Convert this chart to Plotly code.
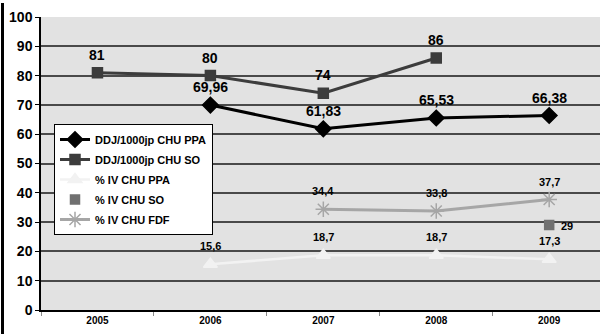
import plotly.graph_objects as go

years = ["2005", "2006", "2007", "2008", "2009"]

ddj_ppa = [None, 69.96, 61.83, 65.53, 66.38]
ddj_so = [81, 80, 74, 86, None]
iv_ppa = [None, 15.6, 18.7, 18.7, 17.3]
iv_so = [None, None, None, None, 29]
iv_fdf = [None, None, 34.4, 33.8, 37.7]

y_ticks = [0, 10, 20, 30, 40, 50, 60, 70, 80, 90, 100]

FONT = "Liberation Sans, Arial, sans-serif"


def fmt(v):
    return f"{v:g}".replace(".", ",")


fig = go.Figure()

series = [
    dict(name="DDJ/1000jp CHU PPA", y=ddj_ppa, color="#000000", width=3,
         symbol="diamond", size=12, mode="lines+markers"),
    dict(name="DDJ/1000jp CHU SO", y=ddj_so, color="#3c3c3c", width=3,
         symbol="square", size=10, mode="lines+markers"),
    dict(name="% IV CHU PPA", y=iv_ppa, color="#f2f2f2", width=2.5,
         symbol="triangle-up", size=12, mode="lines+markers"),
    dict(name="% IV CHU SO", y=iv_so, color="#707070", width=2,
         symbol="square", size=9, mode="markers"),
    dict(name="% IV CHU FDF", y=iv_fdf, color="#a6a6a6", width=3,
         symbol="asterisk-open", size=13, mode="lines+markers"),
]

for k, s in enumerate(series):
    fig.add_trace(go.Scatter(
        x=years, y=s["y"], name=f"<b>{s['name']}</b>", mode=s["mode"],
        legendgroup=f"g{k}",
        line=dict(color=s["color"], width=s["width"]),
        marker=dict(symbol=s["symbol"], size=s["size"], color=s["color"],
                    line=dict(color=s["color"], width=1.5)),
        connectgaps=False,
    ))

# value labels (category index used as x position)
for vals, fs in [(ddj_ppa, 14), (ddj_so, 14), (iv_ppa, 11), (iv_fdf, 11)]:
    for i, v in enumerate(vals):
        if v is None:
            continue
        fig.add_annotation(x=i, y=v, text=f"<b>{fmt(v)}</b>", showarrow=False,
                           yshift=18, font=dict(size=fs, color="#000000", family=FONT))
for i, v in enumerate(iv_so):
    if v is None:
        continue
    fig.add_annotation(x=i, y=v, text=f"<b>{fmt(v)}</b>", showarrow=False,
                       xshift=18, yshift=-1,
                       font=dict(size=11, color="#000000", family=FONT))

# left frame edge
fig.add_shape(type="line", xref="paper", yref="paper",
              x0=-38.5 / 559, x1=-38.5 / 559, y0=-24 / 293, y1=1 + 14 / 293,
              line=dict(color="#000000", width=3))

fig.update_layout(
    width=600, height=334,
    margin=dict(l=41, r=0, t=17, b=24),
    paper_bgcolor="#ffffff",
    plot_bgcolor="#e2e2e2",
    font=dict(family=FONT, color="#000000"),
    showlegend=True,
    legend=dict(
        x=13 / 559, y=186 / 293, xanchor="left", yanchor="top",
        bgcolor="#ffffff", bordercolor="#000000", borderwidth=1,
        font=dict(size=11, family=FONT),
        itemwidth=30, tracegroupgap=1,
    ),
    xaxis=dict(
        type="category", categoryorder="array", categoryarray=years,
        range=[-0.5, 4.45],
        tickson="boundaries", ticks="outside", ticklen=4, tickcolor="#888888",
        showgrid=False, showline=True, linecolor="#000000", linewidth=1.5,
        tickvals=years, ticktext=[f"<b>{y}</b>" for y in years],
        tickfont=dict(size=10, family=FONT),
        zeroline=False,
    ),
    yaxis=dict(
        range=[0, 100], tickvals=y_ticks, ticktext=[f"<b>{t}</b>" for t in y_ticks],
        ticks="outside", ticklen=4, tickcolor="#000000",
        showgrid=True, gridcolor="#4a4a4a", gridwidth=1.5,
        showline=True, linecolor="#000000", linewidth=1.5,
        tickfont=dict(size=14, family=FONT),
        zeroline=False,
    ),
)

fig.write_html("out.html")
